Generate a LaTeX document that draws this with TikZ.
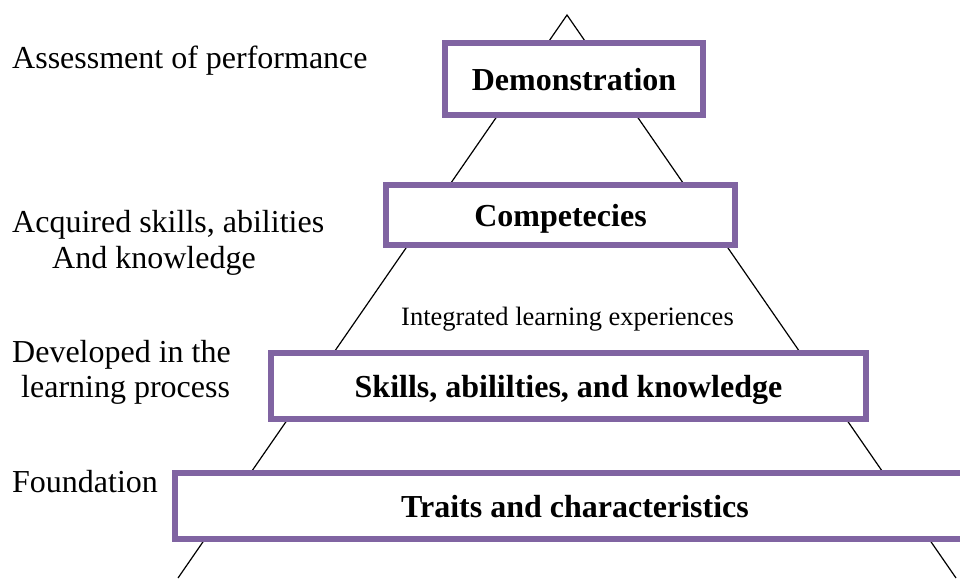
\documentclass[tikz,border=0pt]{standalone}
\usepackage{fontspec}
\setmainfont{Liberation Serif}
\usepackage{tikz}
\usetikzlibrary{positioning}
\definecolor{boxColor}{RGB}{128,100,162}
\newcommand{\levelFont}{\fontsize{32}{38}\selectfont\bfseries}
\newcommand{\sideFont}{\fontsize{32}{38}\selectfont}
\newcommand{\noteFont}{\fontsize{26.5}{32}\selectfont}
\tikzstyle{pyramid} = [x = 1pt, y = -1pt]
\tikzstyle{levelBox} = [draw=boxColor, fill=white, line width=6pt, inner sep=0pt, text height=22pt, text depth=0pt, font=\levelFont]
\tikzstyle{sideText} = [anchor=base west, inner sep=0pt, font=\sideFont]
\tikzstyle{pyramidLine} = [color=black, line width=1.2pt]
\newcommand{\pyramidLevel}[6]{\node [levelBox, minimum width=#4pt, minimum height=#5pt] (#1) at (#2,#3) {#6};}

\begin{document}
\begin{tikzpicture}[pyramid]
  \useasboundingbox (0,0) rectangle (960,578);
  \clip (0,0) rectangle (960,578);
  % outline of the pyramid, the boxes sit on top of it
  \coordinate (apex) at (567,15);
  \coordinate (baseLeft) at (178,578);
  \coordinate (baseRight) at (956,578);
  \draw [pyramidLine] (baseLeft) -- (apex) -- (baseRight);

  \pyramidLevel{demonstration}{574}{79}{258}{72}{Demonstration}
  \pyramidLevel{competencies}{560.5}{215}{349}{60}{Competecies}
  \pyramidLevel{skills}{568.5}{386}{595}{66}{Skills, abililties, and knowledge}
  \pyramidLevel{traits}{575}{506}{800}{66}{Traits and characteristics}

  \node [anchor=base west, inner sep=0pt, font=\noteFont] (integrated) at (401,325) {Integrated learning experiences};

  % labels on the left
  \node [sideText] (assessment) at (12,68) {Assessment of performance};
  \node [sideText] (acquired) at (12,232) {Acquired skills, abilities};
  \node [sideText] (andKnowledge) at (52,268) {And knowledge};
  \node [sideText] (developed) at (12,362) {Developed in the};
  \node [sideText] (learningProcess) at (21,397) {learning process};
  \node [sideText] (foundation) at (12,492) {Foundation};
\end{tikzpicture}
\end{document}
